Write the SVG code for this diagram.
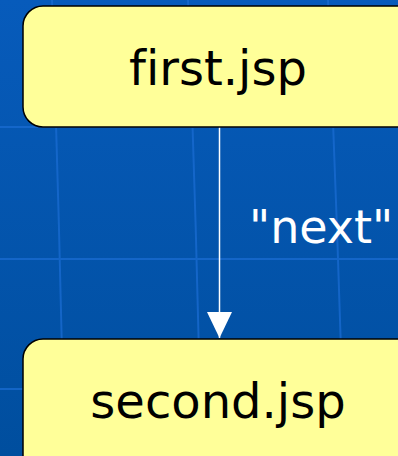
<svg xmlns="http://www.w3.org/2000/svg" width="398" height="456" viewBox="0 0 398 456">
  <defs>
    <linearGradient id="bg" x1="0" y1="0" x2="0" y2="1">
      <stop offset="0" stop-color="#075bbb"/>
      <stop offset="1" stop-color="#004e9e"/>
    </linearGradient>
    <marker id="arrow" viewBox="0 0 26 25" refX="26" refY="12.5" markerWidth="26" markerHeight="25" markerUnits="userSpaceOnUse" orient="auto">
      <path d="M0,0 L26,12.5 L0,25 Z" fill="#ffffff"/>
    </marker>
    <style>
      .grid { stroke: #1a6cd2; stroke-width: 2; fill: none; opacity: 0.75; }
      .node rect { fill: #ffff99; stroke: #000000; stroke-width: 1.5; }
      .node text { font-family: "DejaVu Sans", Verdana, sans-serif; font-size: 48px; fill: #000000; text-anchor: middle; font-variant-ligatures: none; }
      .edge { stroke: #ffffff; stroke-width: 1.5; fill: none; }
      .label { font-family: "DejaVu Sans", Verdana, sans-serif; font-size: 46px; fill: #ffffff; font-variant-ligatures: none; }
    </style>
  </defs>

  <!-- background with faint grid -->
  <rect width="398" height="456" fill="url(#bg)"/>
  <g class="grid">
    <path d="M0,127 H398"/>
    <path d="M0,259 H398"/>
    <path d="M0,389 H398"/>
    <path d="M52,0 Q60,230 64,456"/>
    <path d="M188,0 Q197,230 201,456"/>
    <path d="M328,0 Q338,230 344,456"/>
  </g>

  <g id="connectors">
    <path class="edge" d="M219.5,127 V338" marker-end="url(#arrow)"/>
    <text class="label" x="249" y="243">"next"</text>
  </g>

  <g id="first" class="node">
    <rect x="23" y="6" width="400" height="121" rx="20" ry="20"/>
    <text x="218" y="85">first.jsp</text>
  </g>

  <g id="second" class="node">
    <rect x="23" y="339" width="400" height="140" rx="20" ry="20"/>
    <text x="218" y="418">second.jsp</text>
  </g>
</svg>
